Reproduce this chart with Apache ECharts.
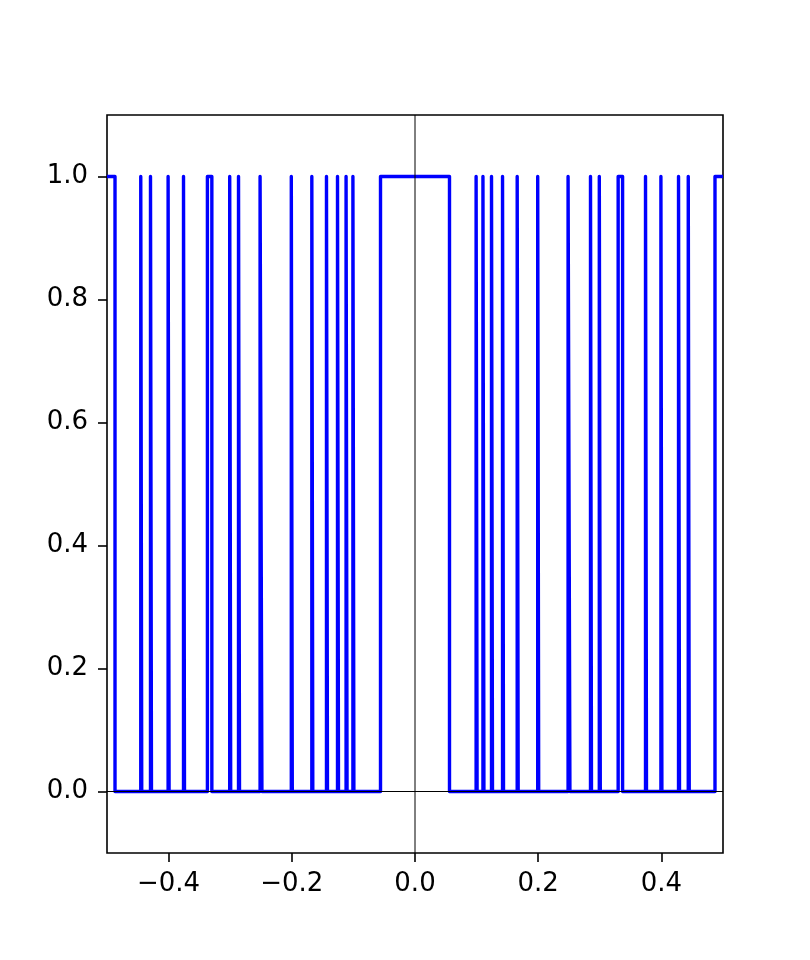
<!DOCTYPE html>
<html>
<head>
<meta charset="utf-8">
<script src="https://cdn.jsdelivr.net/npm/echarts@6/dist/echarts.min.js"></script>
<style>html,body{margin:0;padding:0;background:#fff;}#c{width:810px;height:960px;}</style>
</head>
<body>
<div id="c"></div>
<script>
// Pulse edges: x where the signal rises 0 -> 1 and falls 1 -> 0
var riseX = [-0.5000, -0.4452, -0.4294, -0.4008, -0.3758, -0.3370, -0.3008, -0.2865, -0.2515, -0.2008, -0.1675, -0.1437, -0.1258, -0.1119, -0.1008, -0.0560,
             0.0992, 0.1103, 0.1242, 0.1421, 0.1659, 0.1992, 0.2485, 0.2849, 0.2992, 0.3298, 0.3742, 0.3992, 0.4278, 0.4436, 0.4870];
var fallX = [-0.4870, -0.4436, -0.4278, -0.3992, -0.3742, -0.3298, -0.2992, -0.2849, -0.2485, -0.1992, -0.1659, -0.1421, -0.1242, -0.1103, -0.0992, 0.0560,
             0.1008, 0.1119, 0.1258, 0.1437, 0.1675, 0.2008, 0.2515, 0.2865, 0.3008, 0.3370, 0.3758, 0.4008, 0.4294, 0.4452, 0.5000];
var lowLevel = 0, highLevel = 1;
var xRange = [-0.5, 0.5];
var yRange = [-0.1, 1.1];
var xTicks = [-0.4, -0.2, 0.0, 0.2, 0.4];
var yTicks = [0.0, 0.2, 0.4, 0.6, 0.8, 1.0];

var pts = [];
for (var i = 0; i < riseX.length; i++) {
  if (riseX[i] > xRange[0]) pts.push([riseX[i], lowLevel]);
  pts.push([riseX[i], highLevel]);
  pts.push([fallX[i], highLevel]);
  if (fallX[i] < xRange[1]) pts.push([fallX[i], lowLevel]);
}

function fmt(v) {
  var s = Math.abs(v).toFixed(1);
  return (v < -1e-9 ? '\u2212' : '') + s;
}

var font = 'DejaVu Sans';
var chart = echarts.init(document.getElementById('c'), null, {renderer: 'canvas'});
chart.setOption({
  animation: false,
  backgroundColor: '#ffffff',
  grid: {left: 107, right: 87, top: 115, bottom: 107, show: true, borderColor: '#000', borderWidth: 1.6, backgroundColor: 'transparent'},
  xAxis: {
    type: 'value', min: xRange[0], max: xRange[1],
    axisLine: {show: false, onZero: false},
    splitLine: {show: false},
    axisTick: {show: true, length: 9, lineStyle: {color: '#000', width: 1.6}, customValues: xTicks},
    axisLabel: {show: true, customValues: xTicks, formatter: fmt, color: '#000', fontSize: 26, fontFamily: font, margin: 18}
  },
  yAxis: {
    type: 'value', min: yRange[0], max: yRange[1],
    axisLine: {show: false, onZero: false},
    splitLine: {show: false},
    axisTick: {show: true, length: 9, lineStyle: {color: '#000', width: 1.6}, customValues: yTicks},
    axisLabel: {show: true, customValues: yTicks, formatter: fmt, color: '#000', fontSize: 26, fontFamily: font, margin: 19}
  },
  series: [
    {
      type: 'line', data: pts, showSymbol: false, symbol: 'none', silent: true, z: 2,
      lineStyle: {color: '#0000ff', width: 3.4, join: 'round', cap: 'butt'}
    },
    {
      type: 'line', data: [[xRange[0], 0], [xRange[1], 0]], showSymbol: false, symbol: 'none', silent: true, z: 3,
      lineStyle: {color: '#000', width: 1}
    },
    {
      type: 'line', data: [[0, yRange[0]], [0, yRange[1]]], showSymbol: false, symbol: 'none', silent: true, z: 3,
      lineStyle: {color: '#000', width: 1}
    }
  ]
});
</script>
</body>
</html>
